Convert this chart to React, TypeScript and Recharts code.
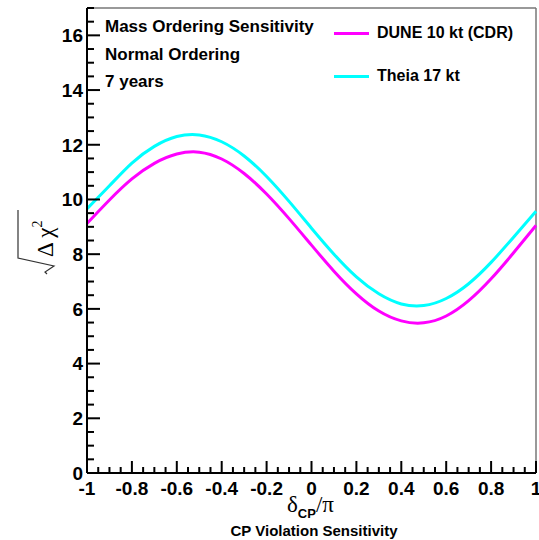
import React from "react";
import { LineChart, Line, XAxis, YAxis, ReferenceLine, Legend } from "recharts";

// delta_CP / pi sample points and sqrt(delta chi^2)
const deltaCP = [-1, -0.9, -0.8, -0.7, -0.6, -0.5, -0.4, -0.3, -0.2, -0.1, 0, 0.1, 0.2, 0.3, 0.4, 0.5, 0.6, 0.7, 0.8, 0.9, 1];
const duneCDR = [9.12, 9.98, 10.75, 11.32, 11.66, 11.73, 11.48, 10.95, 10.2, 9.3, 8.33, 7.38, 6.55, 5.92, 5.56, 5.49, 5.74, 6.3, 7.1, 8.05, 9.05];
const theia17 = [9.66, 10.5, 11.33, 11.94, 12.3, 12.36, 12.11, 11.59, 10.84, 9.93, 8.95, 8.0, 7.17, 6.55, 6.18, 6.12, 6.38, 6.92, 7.7, 8.62, 9.57];

const xMajor = [-1, -0.8, -0.6, -0.4, -0.2, 0, 0.2, 0.4, 0.6, 0.8, 1];
const xLabels = ["-1", "-0.8", "-0.6", "-0.4", "-0.2", "0", "0.2", "0.4", "0.6", "0.8", "1"];
const yMajor = [0, 2, 4, 6, 8, 10, 12, 14, 16];
const yLabels = ["0", "2", "4", "6", "8", "10", "12", "14", "16"];

const seriesNames = ["DUNE 10 kt (CDR)", "Theia 17 kt"];
const seriesColors = ["#ff00ff", "#00ffff"];

const data = deltaCP.map((d, i) => ({ d, dune: duneCDR[i], theia: theia17[i] }));

const r2 = (v: number) => Math.round(v * 100) / 100;

// minor ticks: 4 divisions per major on x, 0.5 steps on y
const xTicks: number[] = [];
xMajor.forEach((m, i) => {
  xTicks.push(m);
  if (i < xMajor.length - 1) {
    const step = (xMajor[i + 1] - m) / 4;
    for (let k = 1; k < 4; k++) xTicks.push(r2(m + k * step));
  }
});
const yTicks: number[] = [];
for (let v = 0; v <= 17; v += 0.5) yTicks.push(v);

const FONT = "'Liberation Sans', Arial, Helvetica, sans-serif";

const XTick = (props: any) => {
  const { x, y, payload } = props;
  const idx = xMajor.findIndex((m) => Math.abs(m - payload.value) < 1e-6);
  const major = idx >= 0;
  return (
    <g>
      <line x1={x} x2={x} y1={y} y2={y - (major ? 12 : 6)} stroke="#000" strokeWidth={2} />
      {major && (
        <text x={x} y={y + 22} textAnchor="middle" fontFamily={FONT} fontWeight="bold" fontSize={19} fill="#000">
          {xLabels[idx]}
        </text>
      )}
    </g>
  );
};

const YTick = (props: any) => {
  const { x, y, payload } = props;
  const idx = yMajor.findIndex((m) => Math.abs(m - payload.value) < 1e-6);
  const major = idx >= 0;
  return (
    <g>
      <line x1={x} x2={x + (major ? 13 : 7)} y1={y} y2={y} stroke="#000" strokeWidth={2} />
      {major && (
        <text x={x - 4} y={y} dy="0.36em" textAnchor="end" fontFamily={FONT} fontWeight="bold" fontSize={19} fill="#000">
          {yLabels[idx]}
        </text>
      )}
    </g>
  );
};

const LegendBox = (props: any) => {
  const items = props.payload || [];
  return (
    <div style={{ fontFamily: FONT, fontWeight: "bold", fontSize: 16, color: "#000" }}>
      {items.map((it: any, i: number) => (
        <div key={i} style={{ display: "flex", alignItems: "center", height: 20, marginBottom: 23 }}>
          <span style={{ display: "inline-block", width: 35, height: 3, background: it.color, marginRight: 8 }} />
          <span>{it.value}</span>
        </div>
      ))}
    </div>
  );
};

export default function App() {
  return (
    <div style={{ position: "absolute", left: 0, top: 0, width: 539, height: 540, background: "#fff" }}>
      <LineChart width={539} height={540} data={data} margin={{ top: 8, right: 3, left: 27, bottom: 37 }}>
        <XAxis
          dataKey="d"
          type="number"
          domain={[-1, 1]}
          ticks={xTicks}
          interval={0}
          tick={(p: any) => <XTick {...p} />}
          tickLine={false}
          tickSize={0}
          tickMargin={0}
          height={30}
          axisLine={{ stroke: "#000", strokeWidth: 2 }}
        />
        <YAxis
          type="number"
          domain={[0, 17]}
          ticks={yTicks}
          interval={0}
          tick={(p: any) => <YTick {...p} />}
          tickLine={false}
          tickSize={0}
          tickMargin={0}
          width={60}
          axisLine={{ stroke: "#000", strokeWidth: 2 }}
        />
        <ReferenceLine y={17} stroke="#777" strokeWidth={1.5} />
        <ReferenceLine x={1} stroke="#777" strokeWidth={1.5} />
        <Line type="natural" dataKey="dune" name={seriesNames[0]} stroke={seriesColors[0]} strokeWidth={3} dot={false} isAnimationActive={false} />
        <Line type="natural" dataKey="theia" name={seriesNames[1]} stroke={seriesColors[1]} strokeWidth={3} dot={false} isAnimationActive={false} />
        <Legend
          layout="vertical"
          align="center"
          verticalAlign="middle"
          content={(p: any) => <LegendBox {...p} />}
          wrapperStyle={{ left: 334, top: 23, width: 200, height: 70 }}
        />
      </LineChart>
      <svg width={539} height={540} style={{ position: "absolute", left: 0, top: 0, pointerEvents: "none" }}>
        <g fontFamily={FONT} fontWeight="bold" fontSize={17} fill="#000">
          <text x={105} y={32}>Mass Ordering Sensitivity</text>
          <text x={105} y={59.5}>Normal Ordering</text>
          <text x={105} y={87}>7 years</text>
        </g>
        {/* y title: sqrt(Delta chi^2), rotated */}
        <g transform="translate(53, 258) rotate(-90)">
          <path d="M -16 -6 L -14 -8 L -8 1 L 0 -35 L 48 -35" fill="none" stroke="#333" strokeWidth={1.2} />
          <text x={1} y={0} fontFamily="'Liberation Serif', 'DejaVu Serif', serif" fontSize={23} fill="#000">
            Δ χ
            <tspan fontSize={14} dy={-11}>2</tspan>
          </text>
        </g>
        {/* x title */}
        <text x={287} y={512} fontFamily="'Liberation Serif', 'DejaVu Serif', serif" fontSize={23} fill="#000">
          δ
          <tspan fontFamily={FONT} fontWeight="bold" fontSize={13} dy={6}>CP</tspan>
          <tspan dy={-6}>/π</tspan>
        </text>
        <text x={314} y={536} textAnchor="middle" fontFamily={FONT} fontWeight="bold" fontSize={15} fill="#000">
          CP Violation Sensitivity
        </text>
      </svg>
    </div>
  );
}
